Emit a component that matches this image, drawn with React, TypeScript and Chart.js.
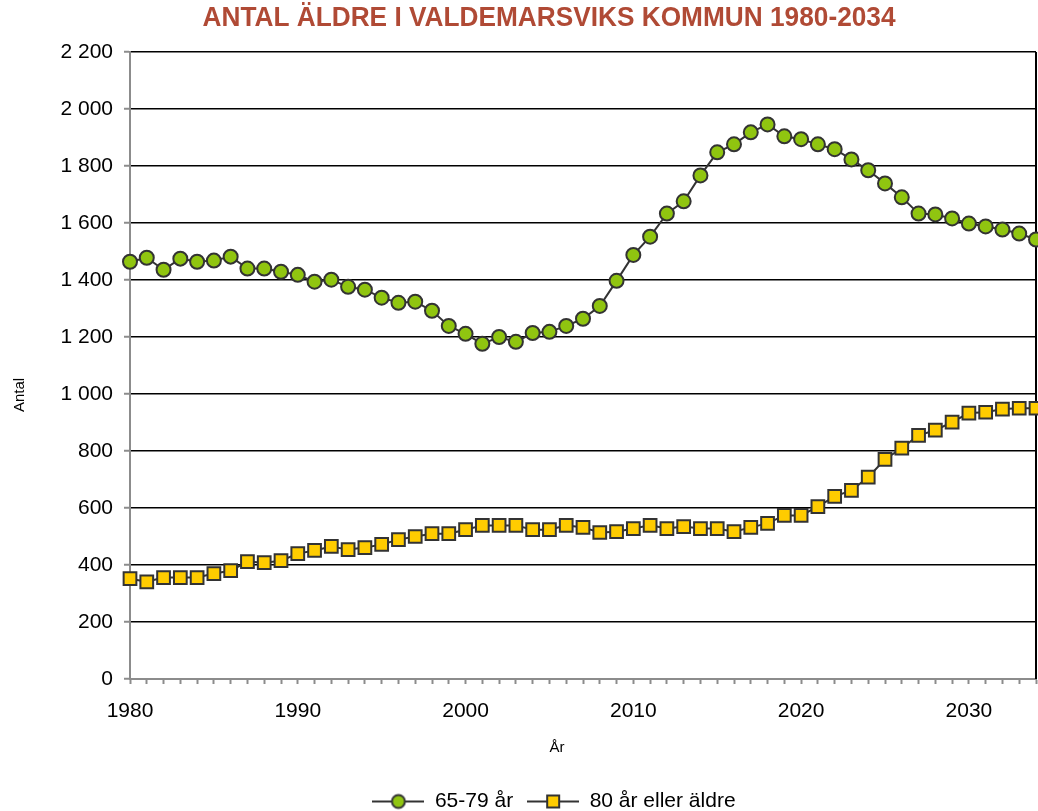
import React, { useEffect, useRef } from 'react';
import { Chart, registerables } from 'chart.js';

Chart.register(...registerables);

const years = [
  1980, 1981, 1982, 1983, 1984, 1985, 1986, 1987, 1988, 1989,
  1990, 1991, 1992, 1993, 1994, 1995, 1996, 1997, 1998, 1999,
  2000, 2001, 2002, 2003, 2004, 2005, 2006, 2007, 2008, 2009,
  2010, 2011, 2012, 2013, 2014, 2015, 2016, 2017, 2018, 2019,
  2020, 2021, 2022, 2023, 2024, 2025, 2026, 2027, 2028, 2029,
  2030, 2031, 2032, 2033, 2034,
];

const age65to79 = [
  1464, 1478, 1436, 1475, 1464, 1468, 1482, 1440, 1440, 1429,
  1418, 1394, 1401, 1376, 1366, 1338, 1320, 1324, 1292, 1239,
  1211, 1176, 1200, 1183, 1214, 1218, 1239, 1264, 1309, 1397,
  1488, 1552, 1633, 1676, 1767, 1848, 1876, 1918, 1946, 1904,
  1894, 1876, 1859, 1823, 1785, 1739, 1690, 1633, 1630, 1616,
  1598, 1588, 1577, 1563, 1542,
];

const age80plus = [
  352, 341, 356, 356, 356, 370, 380, 412, 408, 415,
  440, 451, 465, 454, 461, 472, 489, 500, 510, 510,
  524, 539, 539, 539, 524, 524, 539, 532, 514, 517,
  528, 539, 528, 535, 528, 528, 517, 532, 546, 574,
  574, 605, 641, 662, 708, 771, 810, 855, 873, 901,
  933, 936, 947, 950, 950,
];

const xLabelYears = [1980, 1990, 2000, 2010, 2020, 2030];
const seriesNames = ['65-79 år', '80 år eller äldre'];
const titleText = 'ANTAL ÄLDRE I VALDEMARSVIKS KOMMUN 1980-2034';
const yTitle = 'Antal';
const xTitle = 'År';

const FONT = '"Liberation Sans", Arial, sans-serif';
const GREEN = '#90c510';
const YELLOW = '#ffcc00';
const DARK = '#333333';

function fmt(n: number): string {
  return String(n).replace(/\B(?=(\d{3})+(?!\d))/g, ' ');
}

function legendIcon(shape: 'circle' | 'rect', fill: string): HTMLCanvasElement {
  const c = document.createElement('canvas');
  c.width = 52;
  c.height = 18;
  const g = c.getContext('2d')!;
  g.strokeStyle = DARK;
  g.lineWidth = 2;
  g.beginPath();
  g.moveTo(0, 9);
  g.lineTo(52, 9);
  g.stroke();
  g.fillStyle = fill;
  g.beginPath();
  if (shape === 'circle') {
    g.arc(26, 9, 6.5, 0, Math.PI * 2);
  } else {
    g.rect(20, 3, 12, 12);
  }
  g.fill();
  g.stroke();
  return c;
}

export default function App() {
  const ref = useRef<HTMLCanvasElement>(null);

  useEffect(() => {
    if (!ref.current) return;
    const icons = [legendIcon('circle', GREEN), legendIcon('rect', YELLOW)];

    const textPlugin = {
      id: 'customTexts',
      afterLayout(chart: any) {
        const lg = chart.legend;
        if (lg) {
          lg.left += 36;
          lg.right += 36;
        }
      },
      afterDraw(chart: any) {
        const ctx = chart.ctx;
        ctx.save();
        ctx.font = `bold 27px "Liberation Sans Narrow", "Liberation Sans", Arial, sans-serif`;
        const w = ctx.measureText(titleText).width;
        const sx = 693 / w;
        ctx.translate(549, 19);
        ctx.scale(sx, 1);
        ctx.fillStyle = '#b04a35';
        ctx.textAlign = 'center';
        ctx.textBaseline = 'middle';
        ctx.fillText(titleText, 0, 0);
        ctx.restore();
        ctx.save();
        ctx.font = `15px ${FONT}`;
        ctx.fillStyle = '#000';
        ctx.textAlign = 'center';
        ctx.textBaseline = 'middle';
        ctx.fillText(xTitle, 557, 748);
        ctx.translate(20, 395);
        ctx.rotate(-Math.PI / 2);
        ctx.fillText(yTitle, 0, 0);
        ctx.restore();
      },
    };

    const borderPlugin = {
      id: 'rightBorder',
      beforeDatasetsDraw(chart: any) {
        const { ctx, chartArea } = chart;
        ctx.save();
        ctx.strokeStyle = '#000';
        ctx.lineWidth = 2;
        ctx.beginPath();
        ctx.moveTo(chartArea.right, chartArea.top);
        ctx.lineTo(chartArea.right, chartArea.bottom);
        ctx.stroke();
        ctx.restore();
      },
    };

    const chart = new Chart(ref.current, {
      type: 'line',
      data: {
        datasets: [
          {
            label: seriesNames[0],
            data: years.map((y, i) => ({ x: y, y: age65to79[i] })),
            borderColor: DARK,
            borderWidth: 2,
            pointStyle: 'circle',
            pointRadius: 7,
            pointBackgroundColor: GREEN,
            pointBorderColor: DARK,
            pointBorderWidth: 2,
            tension: 0,
            clip: false,
          },
          {
            label: seriesNames[1],
            data: years.map((y, i) => ({ x: y, y: age80plus[i] })),
            borderColor: DARK,
            borderWidth: 2,
            pointStyle: 'rect',
            pointRadius: 9,
            pointBackgroundColor: YELLOW,
            pointBorderColor: DARK,
            pointBorderWidth: 2,
            tension: 0,
            clip: false,
          },
        ] as any,
      },
      options: {
        animation: false,
        responsive: true,
        maintainAspectRatio: false,
        layout: { autoPadding: false, padding: { top: 52, right: 2, left: 0, bottom: -11 } },
        plugins: {
          title: { display: false },
          tooltip: { enabled: false },
          legend: {
            position: 'bottom',
            labels: {
              usePointStyle: true,
              pointStyleWidth: 52,
              boxHeight: 18,
              padding: 14,
              color: '#000',
              font: { family: FONT, size: 21 },
              generateLabels: () =>
                seriesNames.map((name, i) => ({
                  text: name,
                  pointStyle: icons[i],
                  datasetIndex: i,
                  fillStyle: 'transparent',
                  strokeStyle: 'transparent',
                  lineWidth: 0,
                  hidden: false,
                  fontColor: '#000',
                })) as any,
            },
          },
        },
        scales: {
          x: {
            type: 'linear',
            min: 1980,
            max: 2034,
            afterBuildTicks: (scale: any) => {
              scale.ticks = years.map((y) => ({ value: y }));
            },
            afterFit: (scale: any) => {
              scale.height = 98;
              scale.paddingRight = 0;
              scale.paddingLeft = 0;
            },
            ticks: {
              autoSkip: false,
              maxRotation: 0,
              padding: 15,
              color: '#000',
              font: { family: FONT, size: 21 },
              callback: (v: any) => (xLabelYears.includes(Number(v)) ? String(v) : ''),
            },
            grid: {
              drawOnChartArea: false,
              drawTicks: true,
              tickLength: 5,
              tickColor: '#8c8c8c',
              tickWidth: 2,
            },
            border: { color: '#8c8c8c', width: 2 },
            title: { display: false },
          },
          y: {
            min: 0,
            max: 2200,
            afterFit: (scale: any) => {
              scale.width = 130;
            },
            ticks: {
              stepSize: 200,
              padding: 11,
              color: '#000',
              font: { family: FONT, size: 21 },
              callback: (v: any) => fmt(Number(v)),
            },
            grid: {
              color: (c: any) => (c.tick && c.tick.value === 0 ? 'rgba(0,0,0,0)' : '#000'),
              lineWidth: 1.5,
              tickLength: 6,
              tickColor: '#8c8c8c',
              tickWidth: 2,
            },
            border: { color: '#8c8c8c', width: 2 },
            title: { display: false },
          },
        },
      },
      plugins: [textPlugin, borderPlugin],
    });

    return () => chart.destroy();
  }, []);

  return (
    <div style={{ position: 'absolute', left: 0, top: 0, width: 1038, height: 811, background: '#fff' }}>
      <canvas ref={ref} />
    </div>
  );
}
